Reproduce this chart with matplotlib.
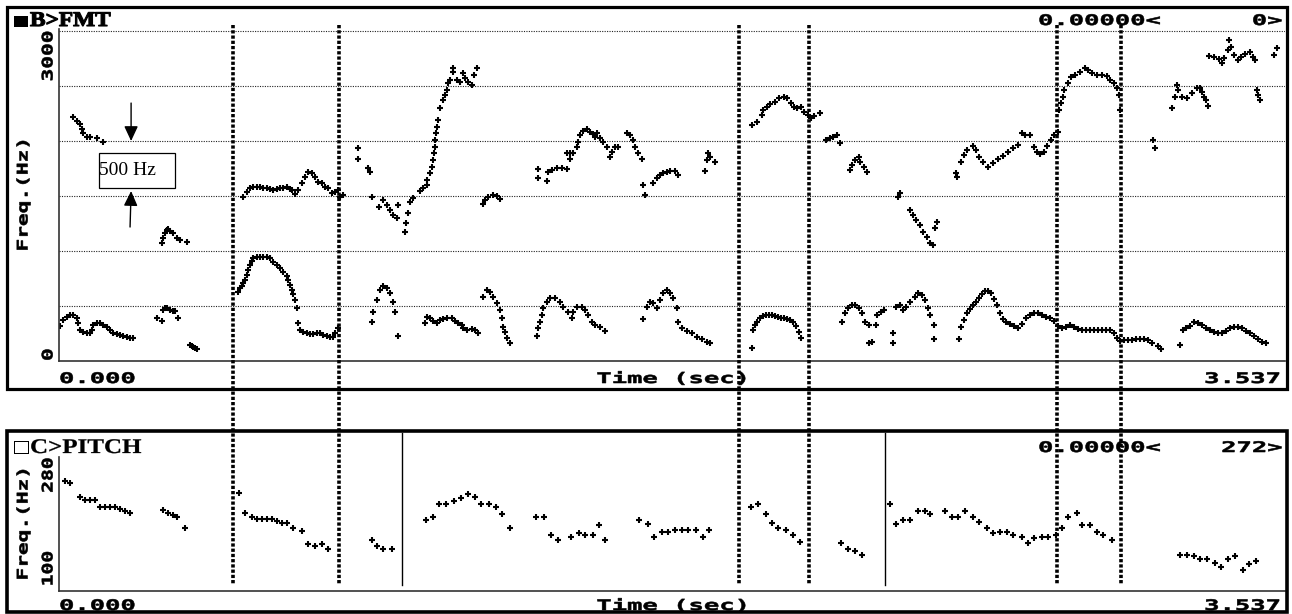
import matplotlib
matplotlib.use("Agg")
import matplotlib.pyplot as plt
from matplotlib.lines import Line2D
from matplotlib.patches import Rectangle
from matplotlib.patheffects import AbstractPathEffect
from matplotlib.transforms import Affine2D, blended_transform_factory

DUR = 3.537  # seconds

# formant tracks, time (s) / frequency (Hz)
f1_t = [0.003, 0.012, 0.023, 0.032, 0.040, 0.052, 0.055, 0.061, 0.069, 0.081, 0.089, 0.095, 0.098,
        0.110, 0.118, 0.127, 0.138, 0.147, 0.156, 0.167, 0.176, 0.185, 0.196, 0.205, 0.213,
        0.283, 0.297, 0.300, 0.306, 0.312, 0.320, 0.329, 0.335, 0.343,
        0.378, 0.384, 0.387, 0.392, 0.398,
        0.516, 0.522, 0.528, 0.531, 0.537, 0.542, 0.545, 0.551, 0.557, 0.560, 0.571, 0.580, 0.589,
        0.600, 0.609, 0.617, 0.629, 0.638, 0.646, 0.658, 0.661, 0.666, 0.672, 0.675, 0.681, 0.687,
        0.690, 0.695, 0.704, 0.716, 0.724, 0.733, 0.744, 0.753, 0.762, 0.773, 0.782, 0.790, 0.796, 0.805,
        0.903, 0.906, 0.917, 0.926, 0.935, 0.946, 0.955, 0.964, 0.969, 0.978,
        1.056, 1.062, 1.070, 1.079, 1.091, 1.099, 1.108, 1.119, 1.134, 1.142, 1.151, 1.163, 1.166,
        1.177, 1.192, 1.200, 1.209,
        1.223, 1.235, 1.243, 1.252, 1.264, 1.272, 1.278, 1.281, 1.287, 1.292, 1.301,
        1.379, 1.382, 1.388, 1.393, 1.396, 1.408, 1.417, 1.431, 1.446, 1.454, 1.468, 1.480, 1.483,
        1.494, 1.509, 1.517, 1.526, 1.538, 1.546, 1.561, 1.575,
        1.685, 1.696, 1.705, 1.714, 1.725, 1.734, 1.743, 1.754, 1.763, 1.771, 1.783, 1.786, 1.797,
        1.812, 1.826, 1.841, 1.855, 1.869, 1.878,
        1.999, 2.002, 2.008, 2.014, 2.022, 2.031, 2.040, 2.048, 2.057, 2.066, 2.074, 2.083, 2.092,
        2.100, 2.109, 2.118, 2.126, 2.135, 2.141,
        2.258, 2.268, 2.277, 2.287, 2.296, 2.307, 2.317, 2.325, 2.336, 2.356, 2.336, 2.345, 2.360,
        2.371, 2.380, 2.405, 2.405, 2.415, 2.425, 2.435, 2.444, 2.454, 2.469, 2.478, 2.489, 2.498,
        2.507, 2.512, 2.523, 2.523,
        2.597, 2.602, 2.611, 2.620, 2.628, 2.637, 2.646, 2.654, 2.663, 2.672,
        2.680, 2.689, 2.698, 2.706, 2.715, 2.723, 2.732, 2.744, 2.755, 2.767,
        2.778, 2.790, 2.801, 2.813, 2.824, 2.836, 2.847, 2.859, 2.871, 2.882,
        2.894, 2.905, 2.917, 2.928, 2.940, 2.951, 2.963, 2.974, 2.986, 2.998,
        3.009, 3.021, 3.032, 3.044, 3.052, 3.061, 3.072, 3.084, 3.096, 3.107,
        3.119, 3.130, 3.142, 3.153, 3.171, 3.179, 3.234, 3.243, 3.251, 3.263,
        3.274, 3.286, 3.298, 3.309, 3.321, 3.332, 3.344, 3.355, 3.367, 3.378,
        3.390, 3.401, 3.413, 3.425, 3.436, 3.448, 3.459, 3.471, 3.482]
f1_hz = [318, 373, 400, 418, 418, 391, 345, 282, 264, 255, 255, 282, 327,
         345, 345, 327, 309, 282, 255, 245, 236, 227, 218, 209, 209,
         391, 364, 464, 482, 482, 464, 454, 454, 391,
         145, 136, 127, 118, 109,
         627, 664, 682, 709, 736, 782, 827, 873, 909, 936, 945, 945, 945,
         945, 936, 900, 873, 845, 809, 773, 736, 691, 645, 609, 554, 482,
         345, 282, 264, 255, 245, 245, 255, 255, 236, 227, 218, 218, 255, 300,
         355, 445, 554, 645, 682, 664, 618, 536, 445, 227,
         345, 400, 391, 364, 345, 373, 382, 391, 391, 364, 345, 327, 300,
         282, 291, 282, 255,
         582, 645, 627, 582, 527, 464, 391, 309, 264, 209, 164,
         227, 300, 355, 418, 482, 536, 573, 573, 536, 491, 445, 391, 445,
         491, 491, 464, 418, 355, 327, 309, 273,
         382, 491, 536, 527, 482, 554, 618, 645, 618, 573, 482, 355, 300,
         273, 255, 218, 200, 173, 164,
         118, 282, 327, 355, 391, 409, 418, 418, 418, 409, 400, 391, 391,
         382, 373, 355, 318, 264, 209,
         355, 436, 482, 509, 509, 482, 436, 355, 327, 327, 164, 173, 418,
         445, 464, 255, 164, 491, 509, 464, 491, 536, 582, 618, 600, 554,
         482, 418, 327, 200,
         200, 309, 373, 436, 473, 509, 536, 573, 609, 636,
         636, 618, 564, 509, 436, 382, 355, 336, 318, 300,
         336, 391, 418, 436, 436, 418, 400, 391, 364, 318,
         300, 309, 327, 309, 291, 282, 282, 282, 282, 282,
         282, 282, 282, 255, 209, 182, 191, 191, 191, 200,
         200, 200, 191, 164, 136, 109, 145, 282, 300, 318,
         355, 345, 327, 300, 282, 264, 255, 255, 273, 300,
         309, 309, 300, 273, 255, 227, 200, 173, 164]

f2_t = [0.297, 0.300, 0.306, 0.312, 0.314, 0.320, 0.329, 0.340, 0.349, 0.369,
        0.531, 0.542, 0.551, 0.560, 0.571, 0.580, 0.589, 0.600, 0.609, 0.617, 0.629, 0.638, 0.646,
        0.658, 0.666, 0.672, 0.681, 0.690, 0.701, 0.710, 0.718, 0.730, 0.739, 0.747, 0.759, 0.767,
        0.776, 0.788, 0.796, 0.805, 0.811, 0.819,
        0.863, 0.863, 0.891, 0.897, 0.903, 0.923, 0.935, 0.946, 0.955, 0.964, 0.975, 0.978, 0.998,
        1.001, 1.007, 1.012, 1.021, 1.041, 1.050, 1.062, 1.062, 1.070, 1.076, 1.079, 1.082, 1.085,
        1.085, 1.088, 1.091, 1.093, 1.099, 1.108, 1.114, 1.119, 1.122, 1.128, 1.137, 1.137, 1.148,
        1.157, 1.166, 1.171, 1.180, 1.192, 1.197, 1.206,
        1.223, 1.229, 1.238, 1.252, 1.264, 1.272,
        1.382, 1.382, 1.408, 1.411, 1.422, 1.437, 1.451, 1.466, 1.466, 1.474, 1.474, 1.483, 1.494,
        1.497, 1.503, 1.512, 1.523, 1.532, 1.541, 1.546, 1.552, 1.561, 1.569, 1.581, 1.590, 1.595,
        1.604, 1.613,
        1.639, 1.647, 1.656, 1.662, 1.670, 1.682,
        1.685, 1.691, 1.714, 1.725, 1.734, 1.743, 1.754, 1.763, 1.777, 1.786,
        1.864, 1.869, 1.872, 1.878, 1.893,
        2.213, 2.224, 2.233, 2.245, 2.253,
        2.282, 2.288, 2.297, 2.308, 2.311, 2.322, 2.331,
        2.421, 2.426,
        2.455, 2.464, 2.472, 2.484, 2.493, 2.504, 2.513, 2.521, 2.527, 2.533,
        2.587, 2.591, 2.601, 2.611, 2.621, 2.636, 2.645, 2.654, 2.665, 2.680, 2.694, 2.709, 2.723,
        2.738, 2.752, 2.768, 2.778, 2.787, 2.801, 2.813, 2.822, 2.830, 2.842, 2.850, 2.862, 2.871,
        2.882]
f2_hz = [1073, 1118, 1164, 1191, 1200, 1182, 1164, 1118, 1100, 1082,
         1491, 1536, 1573, 1582, 1582, 1582, 1573, 1573, 1564, 1554, 1564, 1573, 1573,
         1582, 1564, 1554, 1518, 1554, 1618, 1673, 1718, 1709, 1673, 1627, 1618, 1582,
         1573, 1527, 1536, 1554, 1491, 1509,
         1936, 1836, 1754, 1718, 1491, 1400, 1463, 1418, 1373, 1327, 1300, 1418, 1173,
         1254, 1345, 1445, 1482, 1545, 1573, 1600, 1645, 1709, 1763, 1827, 1891, 1945,
         2009, 2073, 2127, 2191, 2300, 2372, 2418, 2463, 2527, 2554, 2627, 2663, 2554,
         2536, 2618, 2572, 2536, 2509, 2600, 2663,
         1427, 1463, 1491, 1509, 1500, 1473,
         1745, 1663, 1636, 1718, 1736, 1754, 1754, 1745, 1891, 1891, 1836, 1891, 1945,
         1991, 2054, 2091, 2109, 2082, 2063, 2036, 2073, 2027, 1991, 1945, 1854, 1900,
         1945, 1945,
         2073, 2054, 2009, 1945, 1891, 1836,
         1600, 1509, 1618, 1663, 1691, 1709, 1718, 1727, 1727, 1691,
         1727, 1827, 1891, 1854, 1809,
         2009, 2027, 2036, 2054, 1982,
         1736, 1782, 1827, 1854, 1809, 1763, 1718,
         1491, 1527,
         1373, 1327, 1282, 1236, 1173, 1127, 1073, 1054, 1209, 1264,
         1709, 1673, 1809, 1873, 1918, 1954, 1918, 1854, 1809, 1763, 1800, 1836, 1863,
         1900, 1936, 1963, 2073, 2054, 2054, 1945, 1900, 1882, 1900, 1954, 2009, 2054,
         2082]

f3_t = [0.040, 0.052, 0.061, 0.066, 0.069, 0.081, 0.089, 0.110, 0.127,
        1.999, 2.014, 2.028, 2.031, 2.043, 2.051, 2.066, 2.077, 2.092, 2.100, 2.112, 2.120, 2.129,
        2.141, 2.149, 2.161, 2.169, 2.178, 2.196,
        2.885, 2.891, 2.897, 2.900, 2.911, 2.919, 2.931, 2.945, 2.960, 2.968, 2.980, 2.995, 3.009,
        3.023, 3.032, 3.044, 3.052, 3.058, 3.062,
        3.156, 3.161,
        3.210, 3.220, 3.225, 3.228, 3.240, 3.254, 3.269, 3.283, 3.293, 3.298, 3.303, 3.308, 3.315]
f3_hz = [2218, 2182, 2154, 2109, 2073, 2036, 2036, 2027, 1991,
         2145, 2172, 2236, 2282, 2309, 2336, 2354, 2391, 2400, 2391, 2345, 2309, 2300,
         2309, 2263, 2236, 2209, 2227, 2254,
         2282, 2345, 2400, 2463, 2527, 2582, 2600, 2627, 2663, 2645, 2618, 2600, 2600,
         2591, 2554, 2527, 2482, 2418, 2282,
         2009, 1936,
         2300, 2400, 2509, 2463, 2400, 2391, 2436, 2482, 2482, 2445, 2400, 2372, 2318]

f4_t = [3.318, 3.332, 3.347, 3.355, 3.361, 3.373, 3.376, 3.381, 3.390, 3.401, 3.410, 3.422,
        3.436, 3.445, 3.450, 3.504, 3.514,
        3.455, 3.459, 3.465]
f4_hz = [2772, 2763, 2745, 2709, 2754, 2827, 2918, 2854, 2782, 2736, 2763, 2791,
         2809, 2763, 2736, 2782, 2845,
         2463, 2418, 2372]

# pitch track
pitch_t = [0.017, 0.032, 0.061, 0.075, 0.089, 0.104, 0.118, 0.133, 0.147, 0.162, 0.176, 0.190, 0.205,
           0.300, 0.314, 0.329, 0.340, 0.364,
           0.519, 0.537, 0.557, 0.571, 0.586, 0.600, 0.615, 0.629, 0.643, 0.658, 0.675, 0.701,
           0.718, 0.739, 0.759, 0.776,
           0.903, 0.917, 0.935, 0.961,
           1.059, 1.079, 1.096, 1.117, 1.140, 1.160, 1.180, 1.200, 1.217, 1.241, 1.261, 1.278, 1.301,
           1.376, 1.399, 1.419, 1.440, 1.477, 1.500, 1.518, 1.541, 1.558, 1.575,
           1.673, 1.699, 1.717, 1.740, 1.757, 1.777, 1.797, 1.815, 1.838, 1.858, 1.875,
           1.996, 2.017, 2.040, 2.057, 2.074, 2.097, 2.118, 2.138,
           2.256, 2.276, 2.297, 2.317,
           2.397, 2.415, 2.435, 2.455, 2.478, 2.498, 2.513, 2.556, 2.576, 2.594, 2.614, 2.637,
           2.654, 2.677, 2.695, 2.715, 2.735, 2.752, 2.778, 2.796, 2.813, 2.836, 2.853, 2.876,
           2.894, 2.911, 2.937, 2.951, 2.974, 2.995, 3.012, 3.038,
           3.234, 3.254, 3.274, 3.292, 3.312, 3.335, 3.352, 3.373, 3.393, 3.416, 3.433, 3.453]
pitch_hz = [248, 245, 225, 221, 221, 221, 211, 211, 211, 211, 208, 205, 203,
            207, 203, 200, 197, 182,
            231, 203, 197, 194, 194, 194, 194, 191, 189, 189, 182, 177,
            159, 156, 159, 152,
            165, 156, 152, 152,
            193, 197, 215, 215, 220, 224, 229, 225, 215, 215, 211, 201, 182,
            197, 197, 172, 165, 169, 175, 172, 172, 186, 165,
            193, 187, 169, 176, 176, 179, 179, 179, 179, 169, 179,
            211, 215, 201, 189, 182, 179, 172, 162,
            160, 152, 149, 144,
            215, 187, 193, 193, 205, 205, 201, 205, 197, 197, 205, 197,
            190, 182, 175, 176, 176, 172, 169, 160, 168, 169, 169, 172,
            182, 197, 203, 186, 186, 176, 172, 165,
            144, 144, 142, 138, 138, 132, 127, 138, 142, 123, 131, 135]

freq_grid = [500, 1000, 1500, 2000, 2500, 3000]
boundary_t = [0.502, 0.808, 1.963, 2.164, 2.879, 3.064]  # dotted segment marks
cursor_t = [0.990, 2.383]                                 # solid marks in pitch window


class Stretch(AbstractPathEffect):
    # widen (and optionally embolden) text along its baseline, like the old screen font
    def __init__(self, sx, anchor=0.0, stroke=0.0):
        super().__init__()
        self.sx = sx
        self.anchor = anchor
        self.stroke = stroke

    def draw_path(self, renderer, gc, tpath, affine, rgbFace=None):
        xs = tpath.vertices[:, 0]
        x0 = xs.min() + self.anchor * (xs.max() - xs.min())
        st = Affine2D().translate(-x0, 0).scale(self.sx, 1).translate(x0, 0)
        gc0 = renderer.new_gc()
        gc0.copy_properties(gc)
        gc0.set_linewidth(self.stroke)
        if rgbFace is not None:
            gc0.set_foreground(rgbFace)
        renderer.draw_path(gc0, tpath, st + affine, rgbFace)
        gc0.restore()


W, H = 1292, 614
fig = plt.figure(figsize=(W / 100, H / 100), dpi=100)
# pixel coords, origin top-left
px = Affine2D().scale(1 / W, -1 / H).translate(0, 1) + fig.transFigure

ax_f = fig.add_axes([59 / W, 1 - 361 / H, 1226 / W, (361 - 28.8) / H])
ax_p = fig.add_axes([59 / W, 1 - 591 / H, 1226 / W, 134 / H])

for ax in (ax_f, ax_p):
    ax.set_xlim(0, DUR)
    ax.set_xticks([])
    ax.tick_params(left=False, labelleft=False)
    ax.spines['top'].set_visible(False)
    ax.spines['right'].set_visible(False)
    for s in ('left', 'bottom'):
        ax.spines[s].set_color('#333333')
        ax.spines[s].set_linewidth(1.2)

ax_f.set_ylim(0, 3020)
ax_f.set_yticks(freq_grid)
ax_f.grid(axis='y', color='#222222', lw=0.8, ls=(0, (1, 1.2)))
ax_p.set_ylim(93.5, 281)
ax_p.set_yticks([])

mk = dict(ls='none', marker='+', ms=4.8, mew=1.5, color='black')
ax_f.plot(f1_t, f1_hz, **mk)
ax_f.plot(f2_t, f2_hz, **mk)
ax_f.plot(f3_t, f3_hz, **mk)
ax_f.plot(f4_t, f4_hz, **mk)
ax_p.plot(pitch_t, pitch_hz, **mk)

# 500 Hz note with arrows
arr = dict(arrowstyle='-|>,head_length=0.9,head_width=0.42', mutation_scale=10,
           lw=1, color='black', shrinkA=0, shrinkB=0)
ax_f.annotate('', xy=(0.208, 2000), xytext=(0.208, 2345), arrowprops=arr)
ax_f.annotate('', xy=(0.208, 1545), xytext=(0.205, 1218), arrowprops=arr)
ax_f.add_patch(Rectangle((0.115, 1573), 0.220, 318, fc='white', ec='black', lw=0.9, zorder=4))
ax_f.text(0.116, 1732, '500 Hz', family='Liberation Serif', size=14, ha='left', va='center', zorder=5)

# segment marks crossing both windows
bt = blended_transform_factory(ax_f.transData, px)
for t in boundary_t:
    fig.add_artist(Line2D([t, t], [25, 585], transform=bt, color='black', lw=2.6,
                          ls=(0, (0.9, 0.55)), dash_capstyle='butt', zorder=5))
for t in cursor_t:
    fig.add_artist(Line2D([t, t], [433, 585], transform=bt, color='black', lw=1.0, zorder=5))

# window frames
fig.add_artist(Rectangle((6.5, 7), 1280.5, 382, transform=px, fill=False, ec='black', lw=2.3, zorder=10))
fig.add_artist(Rectangle((6.5, 431), 1280.5, 180.5, transform=px, fill=False, ec='black', lw=2.6, zorder=10))

mono = dict(family='DejaVu Sans Mono', weight='bold', size=10.5, color='black')


def htext(x, y, s, ha, sx=1.75, **kw):
    anchor = {'left': 0.0, 'center': 0.5, 'right': 1.0}[ha]
    opts = dict(mono)
    opts.update(kw)
    fig.text(x, y, s, transform=px, ha=ha, va='baseline',
             path_effects=[Stretch(sx, anchor, 0.4)], **opts)


# headers
fig.text(12, 25, '\u25a0', transform=px, ha='left', va='baseline', family='DejaVu Sans',
         size=9.7, path_effects=[Stretch(1.36, 0.0)])
fig.text(30, 26, 'B>FMT', transform=px, ha='left', va='baseline', family='Liberation Serif',
         weight='bold', size=15, path_effects=[Stretch(1.12, 0.0, 0.8)])
fig.text(12, 452, '\u25a1', transform=px, ha='left', va='baseline', family='DejaVu Sans',
         size=12, path_effects=[Stretch(1.2, 0.0)])
fig.text(30, 453, 'C>PITCH', transform=px, ha='left', va='baseline', family='Liberation Serif',
         weight='bold', size=15, path_effects=[Stretch(1.2, 0.0, 0.2)])
htext(1038, 25, '0.00000<', 'left')
htext(1282, 25, '0>', 'right')
htext(1038, 452, '0.00000<', 'left')
htext(1282, 452, '272>', 'right')

# time axis labels
for yb in (383, 610):
    htext(59, yb, '0.000', 'left')
    htext(672, yb, 'Time (sec)', 'center')
    htext(1280, yb, '3.537', 'right')

# vertical labels
rot = dict(rotation=90, ha='center', **mono)
fig.text(23, 195, 'Freq.(Hz)', transform=px, va='center', path_effects=[Stretch(1.45, 0.5, 0.4)], **rot)
fig.text(23, 524, 'Freq.(Hz)', transform=px, va='center', path_effects=[Stretch(1.45, 0.5, 0.4)], **rot)
lf = blended_transform_factory(px, ax_f.transData)
lp = blended_transform_factory(px, ax_p.transData)
fig.text(48, 3000, '3000', transform=lf, va='top', path_effects=[Stretch(1.45, 1.0, 0.4)], **rot)
fig.text(48, 0, '0', transform=lf, va='bottom', path_effects=[Stretch(1.45, 0.0, 0.4)], **rot)
fig.text(48, 280, '280', transform=lp, va='top', path_effects=[Stretch(1.35, 1.0, 0.4)], **rot)
fig.text(48, 100, '100', transform=lp, va='bottom', path_effects=[Stretch(1.35, 0.0, 0.4)], **rot)

fig.savefig('out.png', dpi=100)
